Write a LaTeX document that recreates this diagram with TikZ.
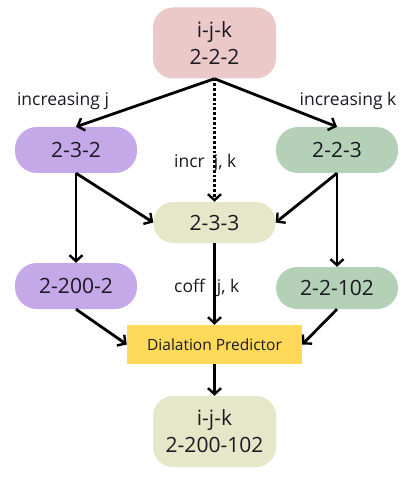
\documentclass[tikz,border=0pt]{standalone}
\usepackage{fontspec}
\setmainfont{Open Sans}
\usetikzlibrary{arrows.meta}
\definecolor{cpink}{HTML}{EBC9C9}
\definecolor{cpurple}{HTML}{C4A8E8}
\definecolor{cgreen}{HTML}{B4D0B6}
\definecolor{cbeige}{HTML}{E6E6C9}
\definecolor{cyellow}{HTML}{FFD95A}
\definecolor{ctext}{HTML}{1A1A22}
\begin{document}
\begin{tikzpicture}[x=1pt,y=-1pt,
  box/.style={rectangle, rounded corners=22pt, minimum width=122pt, minimum height=46pt, inner sep=0pt, text=ctext, font=\fontsize{21}{25}\selectfont},
  bigbox/.style={rectangle, rounded corners=20pt, minimum width=123pt, minimum height=71pt, inner sep=0pt, text=ctext, align=center, font=\fontsize{21}{27}\selectfont},
  lbl/.style={text=ctext, font=\fontsize{17.5}{20}\selectfont, inner sep=0pt},
  arr/.style={line width=2.8pt, -{Straight Barb[length=6pt,width=13pt,line width=2.4pt]}}
]
\useasboundingbox (0,0) rectangle (407,478);
\fill[white] (0,0) rectangle (407,478);
\node[bigbox, fill=cpink] (top) at (214.5,43) {i-j-k\\2-2-2};
\node[box, fill=cpurple] (a) at (76,150) {2-3-2};
\node[box, fill=cgreen] (b) at (337,150) {2-2-3};
\node[box, fill=cbeige, minimum width=122pt, minimum height=41pt, rounded corners=20pt] (c) at (214.5,222.5) {2-3-3};
\node[box, fill=cpurple] (d) at (76,286) {2-200-2};
\node[box, fill=cgreen, minimum height=42pt, rounded corners=21pt] (e) at (337,288) {2-2-102};
\node[rectangle, fill=cyellow, minimum width=175pt, minimum height=39pt, inner sep=0pt, text=ctext, font=\fontsize{15.5}{18}\selectfont] (p) at (214.5,344.5) {Dialation Predictor};
\node[bigbox, fill=cbeige] (bot) at (214.5,431.5) {i-j-k\\2-200-102};

\draw[arr] (top.south) -- (a.north);
\draw[arr] (top.south) -- (b.north);
\draw[arr, dotted] (top.south) -- (c.north);
\draw[arr] (a.south) -- (d.north);
\draw[arr] (a.south) -- (c.west);
\draw[arr] (b.south) -- (e.north);
\draw[arr] (b.south) -- (c.east);
\draw[arr] (c.south) -- (p.north);
\draw[arr] (d.south) -- (p.west);
\draw[arr] (e.south) -- (p.east);
\draw[arr] (p.south) -- (bot.north);

\node[lbl] (l1) at (63,101) {increasing j};
\node[lbl] (l2) at (348,101) {increasing k};
\node[lbl, anchor=west] (l3) at (174,163) {incr\hspace{9pt}j, k};
\node[lbl, anchor=west] (l4) at (174,288) {coff\hspace{12pt}j, k};
\end{tikzpicture}
\end{document}
